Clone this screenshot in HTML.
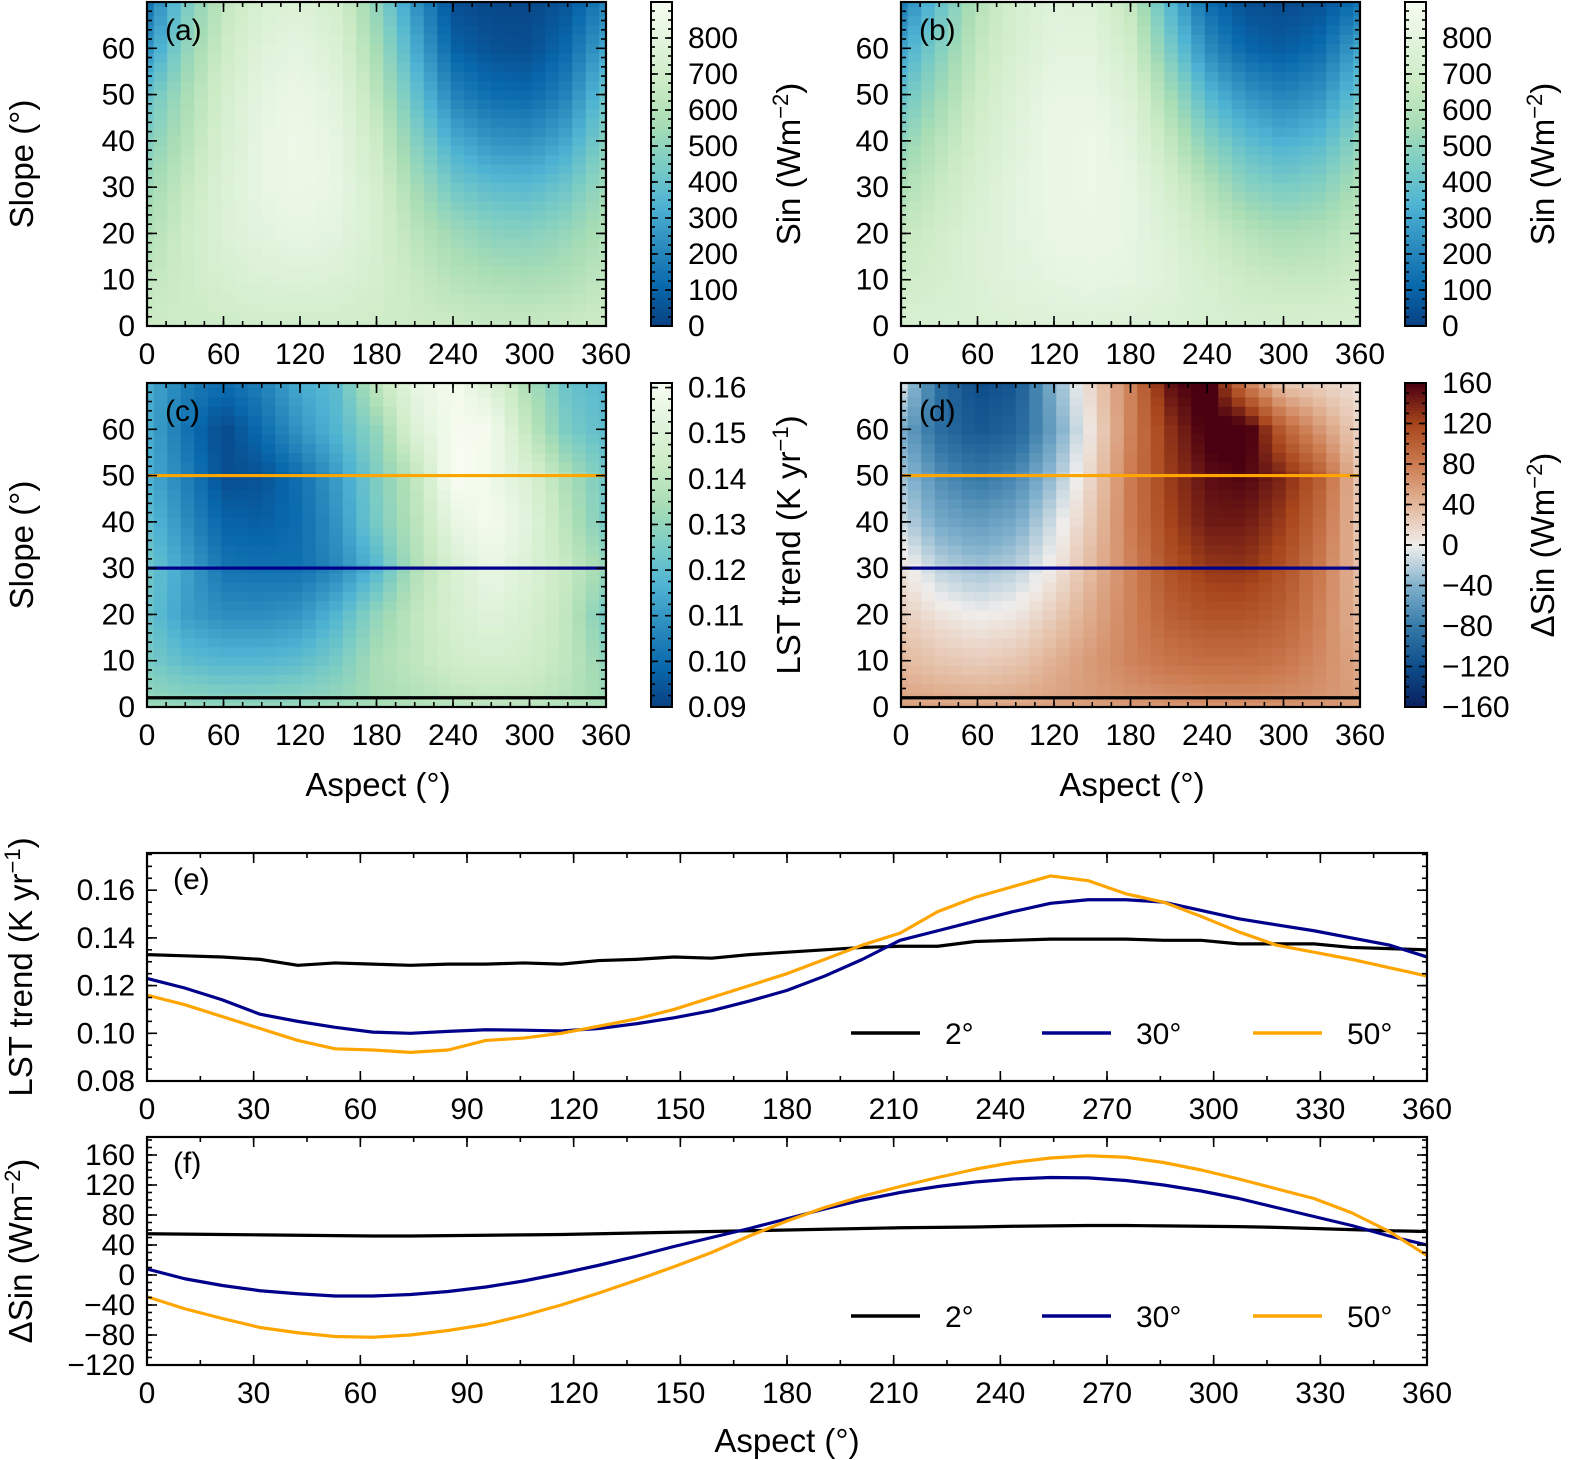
<!DOCTYPE html>
<html><head><meta charset="utf-8"><style>
html,body{margin:0;padding:0;background:#fff;}
svg{display:block;font-family:"Liberation Sans",Arial,sans-serif;}
</style></head><body>
<svg id="fig" width="1569" height="1460" viewBox="0 0 1569 1460" xmlns="http://www.w3.org/2000/svg"></svg>
<script>
// ---------- DATA ----------
const gridAspects = [0,30,60,90,120,150,180,210,240,270,300,330,360];
const gridSlopes = [0,10,20,30,40,50,60,70];
const sinA = [
 [680,680,690,700,700,700,690,680,670,660,660,670,680],
 [640,690,730,760,770,760,720,660,610,580,570,590,640],
 [590,680,760,800,820,800,730,620,540,490,480,520,590],
 [540,650,760,820,850,820,720,560,430,380,370,420,540],
 [470,600,740,820,860,810,680,480,320,250,240,310,470],
 [400,560,720,810,840,790,620,400,200,130,120,200,400],
 [250,500,680,780,810,750,560,320,100,50,40,120,300],
 [150,440,640,740,770,710,500,250,40,20,20,60,200]];
const sinB = [
 [740,745,750,760,770,770,760,750,740,730,730,735,740],
 [690,720,760,790,810,820,810,780,730,680,660,660,690],
 [650,700,760,800,830,840,820,760,680,610,570,590,650],
 [580,660,740,800,840,850,820,720,600,490,450,480,580],
 [500,610,710,790,840,850,800,650,480,380,330,370,500],
 [400,540,680,770,830,830,760,560,360,250,200,250,400],
 [300,470,640,740,800,800,700,450,230,110,80,130,300],
 [180,400,600,720,780,770,640,360,130,40,30,50,150]];
const lstC = [
 [0.132,0.131,0.130,0.130,0.131,0.132,0.134,0.136,0.138,0.139,0.139,0.137,0.134],
 [0.125,0.120,0.118,0.118,0.120,0.125,0.135,0.140,0.145,0.147,0.145,0.140,0.130],
 [0.122,0.112,0.108,0.108,0.110,0.118,0.130,0.140,0.148,0.152,0.148,0.140,0.125],
 [0.123,0.113,0.102,0.101,0.101,0.107,0.118,0.136,0.148,0.156,0.150,0.142,0.132],
 [0.120,0.108,0.098,0.097,0.100,0.110,0.125,0.138,0.155,0.160,0.152,0.138,0.125],
 [0.116,0.105,0.093,0.094,0.101,0.112,0.126,0.140,0.162,0.158,0.149,0.135,0.124],
 [0.115,0.102,0.092,0.100,0.110,0.118,0.130,0.150,0.160,0.160,0.140,0.125,0.120],
 [0.115,0.105,0.100,0.105,0.115,0.120,0.140,0.155,0.160,0.150,0.135,0.122,0.118]];
const dSinD = [
 [55,54,52,53,56,58,60,62,64,65,64,62,58],
 [40,30,25,30,45,60,75,85,90,90,85,70,50],
 [25,8,0,5,25,50,75,100,110,110,100,75,40],
 [8,-18,-28,-20,5,40,75,110,128,130,112,80,35],
 [-15,-45,-55,-45,-10,30,80,120,145,145,125,90,30],
 [-30,-65,-82,-70,-30,20,80,125,152,158,138,100,30],
 [-45,-90,-110,-100,-50,10,75,130,165,170,100,60,20],
 [-10,-90,-120,-110,-40,20,75,150,170,80,30,20,10]];
const lineAspects = [0,10.6,21.2,31.8,42.4,52.9,63.5,74.1,84.7,95.3,105.9,116.5,127.1,137.6,148.2,158.8,169.4,180,190.6,201.2,211.8,222.4,232.9,243.5,254.1,264.7,275.3,285.9,296.5,307.1,317.6,328.2,338.8,349.4,360];
const lstS2 = [0.133,0.1325,0.132,0.131,0.1285,0.1295,0.129,0.1285,0.129,0.129,0.1295,0.129,0.1305,0.131,0.132,0.1315,0.133,0.134,0.135,0.136,0.1365,0.1365,0.1385,0.139,0.1395,0.1395,0.1395,0.139,0.139,0.1375,0.1375,0.1375,0.136,0.1355,0.135];
const lstS30 = [0.123,0.119,0.114,0.108,0.105,0.1025,0.1005,0.100,0.1008,0.1015,0.1013,0.101,0.102,0.104,0.1065,0.1095,0.1135,0.118,0.124,0.131,0.139,0.143,0.147,0.151,0.1545,0.156,0.156,0.155,0.1515,0.148,0.1455,0.143,0.140,0.137,0.132];
const lstS50 = [0.116,0.112,0.107,0.102,0.097,0.0935,0.093,0.092,0.093,0.097,0.098,0.100,0.103,0.106,0.110,0.115,0.120,0.125,0.131,0.137,0.142,0.151,0.157,0.1615,0.166,0.164,0.1585,0.155,0.149,0.1425,0.137,0.134,0.131,0.1275,0.124];
const dS2 = [55,54.5,54,53.5,53,52.5,52,52,52.5,53,53.5,54,55,56,57,58,59,60,61,62,63,63.5,64,65,65.5,66,66,65.5,65,64.5,63.5,62,60.5,59,58];
const dS30 = [8,-5,-14,-21,-25,-28,-28,-26,-22,-16,-8,2,13,25,38,50,62,75,88,100,110,118,124,128,130,129.5,126,120,112,102,90,78,66,52,40];
const dS50 = [-29,-45,-58,-70,-77,-82,-83,-80,-74,-66,-54,-40,-24,-7,11,30,52,72,90,105,118,130,141,150,156,159,157,150,140,128,115,102,83,58,26];
const sinTicks = [0,100,200,300,400,500,600,700,800];
const lstTicks = [0.09,0.10,0.11,0.12,0.13,0.14,0.15,0.16];
const dTicks = [-160,-120,-80,-40,0,40,80,120,160];
const slopeTicks = [0,10,20,30,40,50,60];
const aspTicks = [0,60,120,180,240,300,360];
const lineXTicks = [0,30,60,90,120,150,180,210,240,270,300,330,360];
const eYTicks = [0.08,0.10,0.12,0.14,0.16];
const fYTicks = [-120,-80,-40,0,40,80,120,160];

// ---------- HELPERS ----------
const NS="http://www.w3.org/2000/svg";
const svg=document.getElementById('fig');
function el(tag,attrs,parent){const e=document.createElementNS(NS,tag);for(const k in attrs)e.setAttribute(k,attrs[k]);(parent||svg).appendChild(e);return e;}
function hex(h){return [parseInt(h.slice(1,3),16),parseInt(h.slice(3,5),16),parseInt(h.slice(5,7),16)];}
function mkCmap(stops){const c=stops.map(hex);return t=>{t=Math.max(0,Math.min(1,t));const p=t*(c.length-1);const i=Math.min(c.length-2,Math.floor(p));const f=p-i;const r=c[i].map((v,k)=>Math.round(v+(c[i+1][k]-v)*f));return `rgb(${r[0]},${r[1]},${r[2]})`;};}
const gnbu=mkCmap(['#084081','#0868ac','#2b8cbe','#4eb3d3','#7bccc4','#a8ddb5','#ccebc5','#e0f3db','#f7fcf0']);
const bal=mkCmap(['#0a1f5c','#0d4d8a','#3579a8','#7fb0cc','#f0eeec','#e3b89c','#cc7b50','#a8461c','#4a0010']);
function bilin(grid,a,s){
  let i=Math.min(gridAspects.length-2,Math.floor(a/30)), j=Math.min(gridSlopes.length-2,Math.floor(s/10));
  const fa=(a-gridAspects[i])/30, fs=(s-gridSlopes[j])/10;
  const v0=grid[j][i]*(1-fa)+grid[j][i+1]*fa, v1=grid[j+1][i]*(1-fa)+grid[j+1][i+1]*fa;
  return v0*(1-fs)+v1*fs;
}
let clipId=0;
function text(x,y,str,opts,parent){
  const t=el('text',Object.assign({x:x,y:y,'font-size':30,fill:'#000'},opts||{}),parent);
  t.textContent=str;return t;
}
function supText(parent,x,y,parts,rot,name){
  const t=el('text',{x:x,y:y,'font-size':33,'text-anchor':'middle',transform:`rotate(-90 ${x} ${y})`},parent);
  
  
  parts.forEach(p=>{const s=el('tspan',p.sup?{'baseline-shift':'super','font-size':22}:{},t);s.textContent=p.t;});
  return t;
}
function axesFrame(g,x0,y0,w,h,xs,ys,xMaj,xMin,yMaj,yMin,xFmt,yFmt){
  const tk=(x1,y1,x2,y2)=>el('line',{x1,y1,x2,y2,stroke:'#000','stroke-width':1.6},g);
  xMin.forEach(v=>{const x=xs(v);tk(x,y0+h,x,y0+h-5);tk(x,y0,x,y0+5);});
  xMaj.forEach(v=>{const x=xs(v);tk(x,y0+h,x,y0+h-10);tk(x,y0,x,y0+10);
    const t=text(x,y0+h+38,xFmt(v),{'text-anchor':'middle'},g);});
  yMin.forEach(v=>{const y=ys(v);tk(x0,y,x0+5,y);tk(x0+w,y,x0+w-5,y);});
  yMaj.forEach(v=>{const y=ys(v);tk(x0,y,x0+10,y);tk(x0+w,y,x0+w-10,y);
    const t=text(x0-12,y+10,yFmt(v),{'text-anchor':'end'},g);});
  const r=el('rect',{x:x0,y:y0,width:w,height:h,fill:'none',stroke:'#000','stroke-width':2.2},g);
  
  
}
function range(a,b,s){const r=[];for(let v=a;v<=b+1e-9;v+=s)r.push(+v.toFixed(6));return r;}

function heatPanel(name,letter,x0,y0,grid,cmap,vmin,vmax,showX,hlines){
  const w=459,h=324;
  const g=el('g',{});
  
  
  const xs=a=>x0+a/360*w, ys=s=>y0+h-s/70*h;
  const cid='clip'+(clipId++);
  const cp=el('clipPath',{id:cid},g);el('rect',{x:x0,y:y0,width:w,height:h},cp);
  const cells=el('g',{'clip-path':`url(#${cid})`},g);
  const nc=35, cw=w/34, ch=h/35;
  for(let i=0;i<nc;i++){for(let j=0;j<=35;j++){
    const a=i*360/34, s=j*2;
    const v=bilin(grid,a,Math.min(70,s));
    const r=el('rect',{x:(xs(a)-cw/2).toFixed(2),y:(ys(s)-ch/2).toFixed(2),width:(cw+0.6).toFixed(2),height:(ch+0.6).toFixed(2),fill:cmap((v-vmin)/(vmax-vmin))},cells);
    
    
  }}
  if(hlines){hlines.forEach(l=>{const ln=el('line',{x1:x0,x2:x0+w,y1:ys(l.s),y2:ys(l.s),stroke:l.c,'stroke-width':3.2},g);
    
    });}
  axesFrame(g,x0,y0,w,h,xs,ys,aspTicks,range(0,360,15),slopeTicks,range(0,70,2),v=>String(v),v=>String(v));
  const lt=text(x0+18,y0+38,letter,{},g);
  return {xs,ys};
}
function colorbar(name,x0,y0,cmap,vmin,vmax,ticks,minorStep,fmt,title,tx){
  const w=21,h=324;
  const g=el('g',{});
  
  
  const n=120;
  for(let i=0;i<n;i++){el('rect',{x:x0,y:(y0+h-(i+1)*h/n).toFixed(2),width:w,height:(h/n+0.6).toFixed(2),fill:cmap((i+0.5)/n)},g);}
  const ys=v=>y0+h-(v-vmin)/(vmax-vmin)*h;
  const tk=(x1,y1,x2,y2)=>el('line',{x1,y1,x2,y2,stroke:'#000','stroke-width':1.6},g);
  range(ticks[0],vmax,minorStep).forEach(v=>{const y=ys(v);if(y<y0)return;tk(x0,y,x0+4,y);tk(x0+w,y,x0+w-4,y);});
  ticks.forEach(v=>{const y=ys(v);tk(x0,y,x0+7,y);tk(x0+w,y,x0+w-7,y);
    const t=text(x0+w+16,y+10,fmt(v),{},g);});
  el('rect',{x:x0,y:y0,width:w,height:h,fill:'none',stroke:'#000','stroke-width':2},g);
  supText(g,tx,y0+h/2,title,true,'colorbar-title');
}
const minus=v=>String(v).replace('-','\u2212');

// ---------- HEATMAPS ----------
heatPanel('heatmap-a','(a)',147,2,sinA,gnbu,0,900,true);
colorbar('colorbar-a',651,2,gnbu,0,900,sinTicks,25,v=>String(v),[{t:'Sin (Wm'},{t:'\u22122',sup:true},{t:')'}],800);
heatPanel('heatmap-b','(b)',901,2,sinB,gnbu,0,900,true);
colorbar('colorbar-b',1405,2,gnbu,0,900,sinTicks,25,v=>String(v),[{t:'Sin (Wm'},{t:'\u22122',sup:true},{t:')'}],1554);
const hl=[{s:2,c:'#000000'},{s:30,c:'#00008b'},{s:50,c:'#ffa500'}];
heatPanel('heatmap-c','(c)',147,383,lstC,gnbu,0.09,0.161,true,hl);
colorbar('colorbar-c',651,383,gnbu,0.09,0.161,lstTicks,0.0025,v=>v.toFixed(2),[{t:'LST trend (K yr'},{t:'\u22121',sup:true},{t:')'}],800);
heatPanel('heatmap-d','(d)',901,383,dSinD,bal,-160,160,true,hl);
colorbar('colorbar-d',1405,383,bal,-160,160,dTicks,10,minus,[{t:'\u0394Sin (Wm'},{t:'\u22122',sup:true},{t:')'}],1554);
[[22,164],[22,545]].forEach(p=>{const t=text(p[0]+11,p[1],'Slope (\u00b0)',{'text-anchor':'middle','font-size':33,transform:`rotate(-90 ${p[0]+11} ${p[1]})`});});
[[378,796],[1132,796]].forEach(p=>{const t=text(p[0],p[1],'Aspect (\u00b0)',{'text-anchor':'middle','font-size':33});});

// ---------- LINE PANELS ----------
function linePanel(name,letter,y0,ymin,ymax,yticks,yminor,yfmt,series,legY){
  const x0=147,w=1280,h=228;
  const g=el('g',{});
  
  
  const xs=a=>x0+a/360*w, ys=v=>y0+h-(v-ymin)/(ymax-ymin)*h;
  const cid='clip'+(clipId++);
  const cp=el('clipPath',{id:cid},g);el('rect',{x:x0,y:y0,width:w,height:h},cp);
  const lg=el('g',{'clip-path':`url(#${cid})`},g);
  series.forEach(s=>{const d=lineAspects.map((a,i)=>(i?'L':'M')+xs(a).toFixed(2)+','+ys(s.v[i]).toFixed(2)).join('');
    const p=el('path',{d:d,fill:'none',stroke:s.c,'stroke-width':3.2,'stroke-linejoin':'round'},lg);
    
    });
  axesFrame(g,x0,y0,w,h,xs,ys,lineXTicks,range(0,360,15),yticks,yminor,v=>String(v),yfmt);
  const lt=text(x0+26,y0+36,letter,{},g);
  const lx=[851,1042,1253];
  series.forEach((s,i)=>{const le=el('g',{},g);
    
    
    el('line',{x1:lx[i],x2:lx[i]+69,y1:legY,y2:legY,stroke:s.c,'stroke-width':3.5},le);
    text(lx[i]+94,legY+11,s.label,{},le);});
}
linePanel('line-chart-e','(e)',853,0.08,0.1756,eYTicks,range(0.08,0.175,0.005),v=>v.toFixed(2),
  [{n:'2deg',label:'2\u00b0',c:'#000000',v:lstS2},{n:'30deg',label:'30\u00b0',c:'#00008b',v:lstS30},{n:'50deg',label:'50\u00b0',c:'#ffa500',v:lstS50}],1033);
linePanel('line-chart-f','(f)',1137,-120,184,fYTicks,range(-120,180,10),minus,
  [{n:'2deg',label:'2\u00b0',c:'#000000',v:dS2},{n:'30deg',label:'30\u00b0',c:'#00008b',v:dS30},{n:'50deg',label:'50\u00b0',c:'#ffa500',v:dS50}],1316);
const g1=el('g',{});
supText(g1,32,967,[{t:'LST trend (K yr'},{t:'\u22121',sup:true},{t:')'}],true,'y-axis-title');
const g2=el('g',{});
supText(g2,32,1251,[{t:'\u0394Sin (Wm'},{t:'\u22122',sup:true},{t:')'}],true,'y-axis-title');
const xt=text(787,1452,'Aspect (\u00b0)',{'text-anchor':'middle','font-size':33});


</script>
</body></html>
